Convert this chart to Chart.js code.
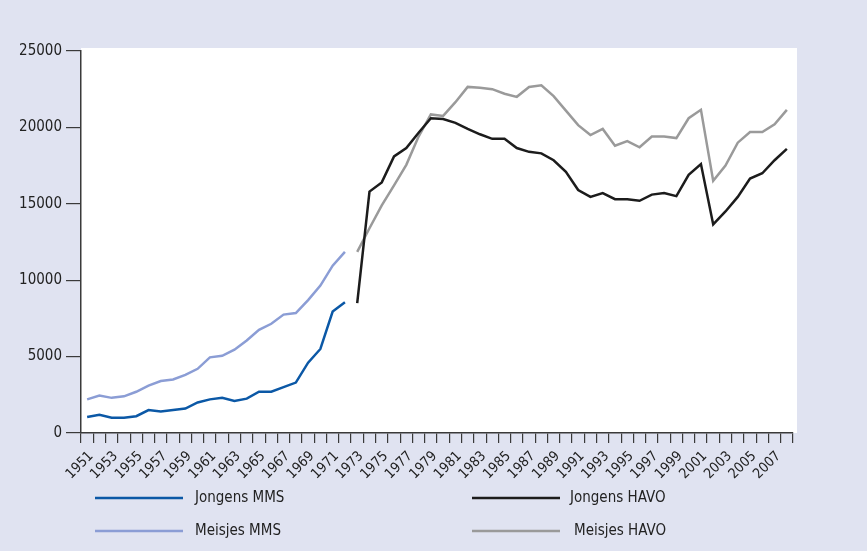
<!DOCTYPE html>
<html>
<head>
<meta charset="utf-8">
<script src="https://cdn.jsdelivr.net/npm/chart.js@4.4.0/dist/chart.umd.min.js"></script>
<style>
   html, body { margin: 0; padding: 0; background: #e0e3f1; }
   #wrap { width: 867px; height: 551px; position: relative; }
</style>
</head>
<body>
<div id="wrap"><canvas id="chart" width="867" height="551"></canvas></div>
<script>
// Jaren (categorieën)
const years = [
   1951, 1952, 1953, 1954, 1955, 1956, 1957, 1958, 1959, 1960,
   1961, 1962, 1963, 1964, 1965, 1966, 1967, 1968, 1969, 1970,
   1971, 1972, 1973, 1974, 1975, 1976, 1977, 1978, 1979, 1980,
   1981, 1982, 1983, 1984, 1985, 1986, 1987, 1988, 1989, 1990,
   1991, 1992, 1993, 1994, 1995, 1996, 1997, 1998, 1999, 2000,
   2001, 2002, 2003, 2004, 2005, 2006, 2007, 2008
];

// MMS: 1951 - 1972
const jongensMMS = [
   1050, 1200, 1000, 1000, 1100, 1500, 1400, 1500, 1600, 2000,
   2200, 2300, 2100, 2250, 2700, 2700, 3000, 3300, 4600, 5500,
   7950, 8550
];
const meisjesMMS = [
   2200, 2450, 2300, 2400, 2700, 3100, 3400, 3500, 3800, 4200,
   4950, 5050, 5450, 6050, 6750, 7150, 7750, 7850, 8700, 9650,
   10950, 11850
];

// HAVO: 1973 - 2008
const jongensHAVO = [
   8500, 15800, 16400, 18100, 18650, 19650, 20600, 20550, 20300, 19900,
   19550, 19250, 19250, 18650, 18400, 18300, 17850, 17100, 15900, 15450,
   15700, 15300, 15300, 15200, 15600, 15700, 15500, 16900, 17600, 13650,
   14500, 15450, 16650, 17000, 17850, 18600
];
const meisjesHAVO = [
   11850, 13400, 14900, 16200, 17550, 19400, 20850, 20750, 21650, 22650,
   22600, 22500, 22200, 22000, 22650, 22750, 22050, 21100, 20150, 19500,
   19900, 18800, 19100, 18700, 19400, 19400, 19300, 20600, 21150, 16500,
   17500, 19000, 19700, 19700, 20200, 21150
];

const yTicks = [0, 5000, 10000, 15000, 20000, 25000];

const FONT = "'Liberation Sans Narrow', 'DejaVu Sans Condensed', sans-serif";
const AXIS_COLOR = '#3a3a3a';

/* Aligne une série sur toutes les années */
function alignSeries(values, firstYear) {
   var start = years.indexOf(firstYear);
   return years.map((y, i) => {
      var k = i - start;
      return (k >= 0 && k < values.length) ? values[k] : null;
   });
}

const series = [
   { label: 'Jongens MMS', data: alignSeries(jongensMMS, 1951), color: '#0b58a6' },
   { label: 'Meisjes MMS', data: alignSeries(meisjesMMS, 1951), color: '#8b9dd5' },
   { label: 'Jongens HAVO', data: alignSeries(jongensHAVO, 1973), color: '#1c1c1c' },
   { label: 'Meisjes HAVO', data: alignSeries(meisjesHAVO, 1973), color: '#9a9a9a' }
];

// Fond blanc de la zone du graphique
const plotBackground = {
   id: 'plotBackground',
   beforeDraw(chart) {
      const a = chart.chartArea;
      const ctx = chart.ctx;
      ctx.save();
      ctx.fillStyle = '#ffffff';
      ctx.fillRect(a.left, a.top - 3, a.right - a.left + 4, a.bottom - a.top + 3);
      ctx.restore();
   }
};

// Légende en deux colonnes
const columnLegend = {
   id: 'columnLegend',
   afterDraw(chart) {
      const ctx = chart.ctx;
      const cols = [[95, 183, 195], [472, 560, 570]];
      const rows = [498, 531];
      ctx.save();
      ctx.font = '15px ' + FONT;
      ctx.textBaseline = 'middle';
      chart.data.datasets.forEach((ds, i) => {
         const col = cols[i < 2 ? 0 : 1];
         const y = rows[i % 2];
         ctx.strokeStyle = ds.borderColor;
         ctx.lineWidth = 2.5;
         ctx.beginPath();
         ctx.moveTo(col[0], y);
         ctx.lineTo(col[1], y);
         ctx.stroke();
         ctx.fillStyle = '#222222';
         ctx.fillText(ds.label, col[2] + (i === 3 ? 4 : 0), y);
      });
      ctx.restore();
   }
};

new Chart(document.getElementById('chart'), {
   type: 'line',
   data: {
      labels: years.map(String),
      datasets: series.map(s => ({
         label: s.label,
         data: s.data,
         borderColor: s.color,
         backgroundColor: s.color,
         borderWidth: 2.5,
         pointRadius: 0,
         tension: 0,
         spanGaps: false
      }))
   },
   options: {
      responsive: false,
      animation: false,
      events: [],
      layout: {
         padding: { left: 0, top: 51, right: 74, bottom: 28 }
      },
      plugins: {
         legend: { display: false },
         tooltip: { enabled: false }
      },
      scales: {
         x: {
            type: 'category',
            offset: true,
            afterFit(scale) { scale.height = 90; },
            border: { color: AXIS_COLOR, width: 1.5 },
            grid: {
               offset: true,
               drawOnChartArea: false,
               drawTicks: true,
               tickLength: 10,
               color: AXIS_COLOR,
               lineWidth: 1.2
            },
            ticks: {
               autoSkip: false,
               minRotation: 45,
               maxRotation: 45,
               padding: 5,
               labelOffset: 4,
               color: '#222222',
               font: { family: FONT, size: 14 },
               callback: function(val, i) {
                  return i % 2 === 0 ? this.getLabelForValue(val) : '';
               }
            }
         },
         y: {
            min: 0,
            max: 25000,
            afterFit(scale) { scale.width = 81; },
            afterBuildTicks(scale) { scale.ticks = yTicks.map(v => ({ value: v })); },
            border: { color: AXIS_COLOR, width: 1.5 },
            grid: {
               drawOnChartArea: false,
               drawTicks: true,
               tickLength: 15,
               color: AXIS_COLOR,
               lineWidth: 1.2
            },
            ticks: {
               padding: 4,
               color: '#222222',
               font: { family: FONT, size: 15 },
               callback: v => String(v)
            }
         }
      }
   },
   plugins: [plotBackground, columnLegend]
});
</script>
</body>
</html>
